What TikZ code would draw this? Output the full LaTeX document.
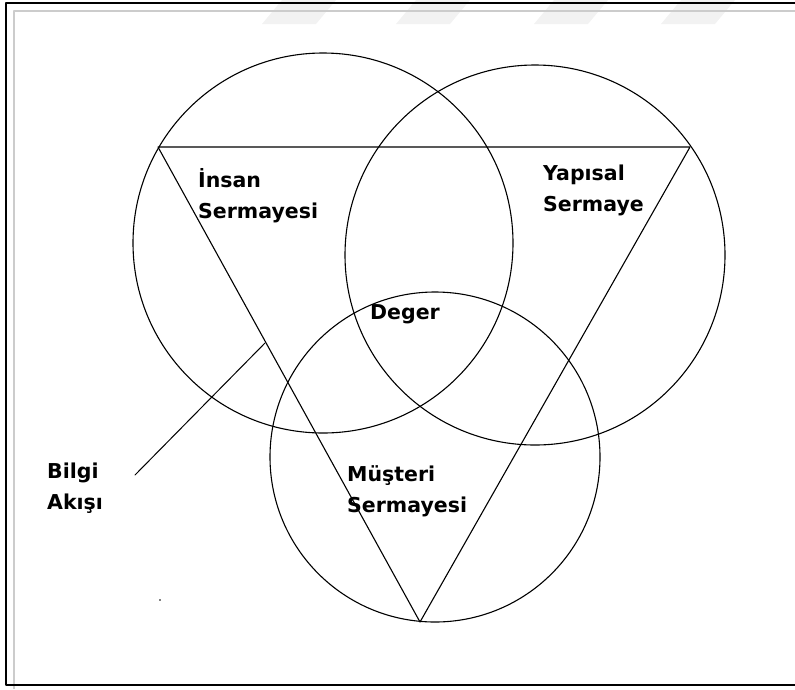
\documentclass[tikz,border=0pt]{standalone}
\usepackage{fontspec}
\setmainfont{DejaVu Sans}
\begin{document}
\begin{tikzpicture}[x=1pt,y=-1pt,line join=round,line cap=round]
	\tikzset{lbl/.style={font=\bfseries\fontsize{20.5}{31}\selectfont,align=left,anchor=base west,inner sep=0pt},
		ring/.style={draw,line width=1.1pt}}
	\useasboundingbox (0,0) rectangle (795,689);
	% frame and watermark
	\foreach \x in {262,396,534,661}
	\fill[black!5] (\x,24)--(\x+20,0)--(\x+74,0)--(\x+54,24)--cycle;
	\draw[black!20,line width=2.2pt,line cap=butt] (14,689)--(14,11)--(795,11);
	\draw[line width=2.4pt,line cap=butt] (795,3)--(6,3)--(6,685)--(795,685);
	% circles
	\draw[ring] (323,243) circle[radius=190pt];
	\draw[ring] (535,255) circle[radius=190pt];
	\draw[ring] (435,457) circle[radius=165pt];
	% triangle
	\coordinate (tl) at (158,147);
	\coordinate (tr) at (690,147);
	\coordinate (bt) at (420,622);
	\draw[line width=1.1pt] (tl)--(tr)--(bt)--cycle;
	% labels (base = last line)
	\node[lbl] (insan) at (198,218) {İnsan\\Sermayesi};
	\node[lbl] (yapi) at (543,211) {Yapısal\\Sermaye};
	\node[lbl] (deger) at (370,319) {Deger};
	\node[lbl] (must) at (347,512) {Müşteri\\Sermayesi};
	\node[lbl] (bilgi) at (47,509) {Bilgi\\Akışı};
	\coordinate (akis) at (265,343);
	\draw[line width=1pt] (135,475)--(akis);
	\fill (160,600) circle[radius=0.8pt];
\end{tikzpicture}
\end{document}
